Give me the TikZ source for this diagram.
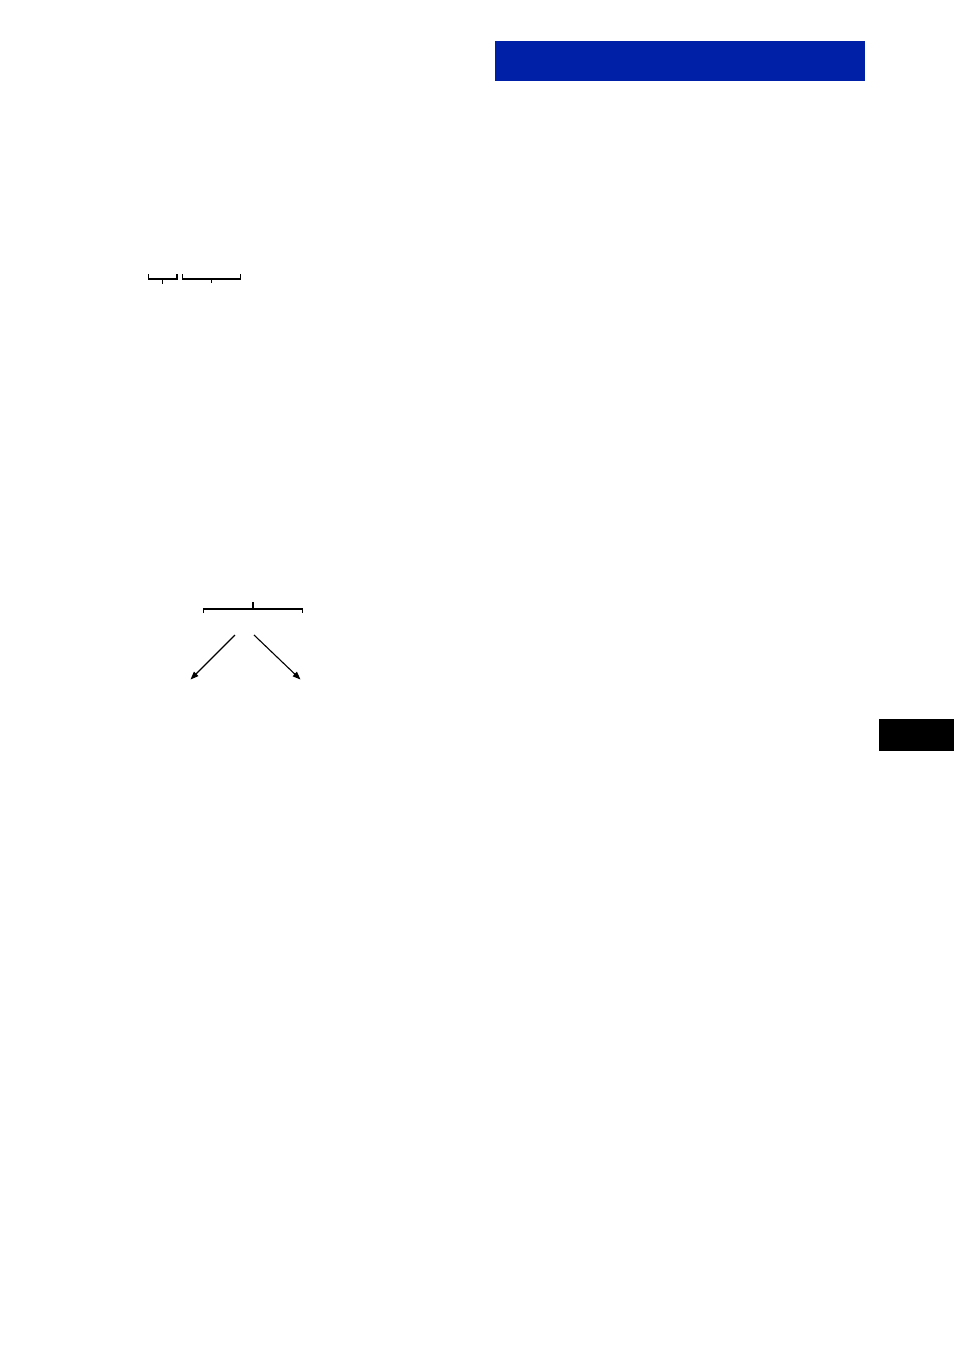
\documentclass[tikz,border=0pt]{standalone}
\usetikzlibrary{arrows.meta}
\definecolor{barblue}{RGB}{0,32,168}
\begin{document}
\begin{tikzpicture}[x=1pt,y=-1pt,
  bracket/.style={line width=1.4pt},
  arr/.style={line width=1.1pt,-{Triangle[length=8pt,width=6pt]}}]
\useasboundingbox[fill=white] (0,0) rectangle (954,1356);
% blue header bar
\fill[barblue] (495,41) rectangle (865,81);
% black side tab
\fill[black] (879,719) rectangle (954,751);
% small brackets
\draw[bracket] (148.5,274) -- (148.5,279) -- (177,279) -- (177,274);
\draw[bracket] (162.7,279) -- (162.7,284);
\draw[bracket] (182.5,274) -- (182.5,279) -- (240.5,279) -- (240.5,274);
\draw[line width=0.8pt] (211.3,279) -- (211.3,283);
% lower bracket
\draw[bracket] (203.5,613) -- (203.5,609) -- (302.5,609) -- (302.5,613);
\draw[bracket] (253,609) -- (253,602);
% arrows
\coordinate (la) at (235,635);
\coordinate (lb) at (190.5,679.5);
\coordinate (ra) at (254,635);
\coordinate (rb) at (300.5,679.5);
\draw[arr] (la) -- (lb);
\draw[arr] (ra) -- (rb);
\end{tikzpicture}
\end{document}
